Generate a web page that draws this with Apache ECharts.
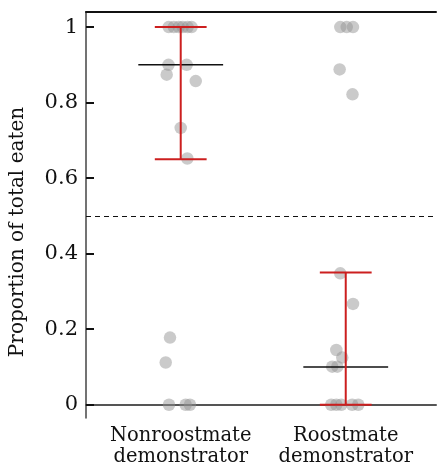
<!DOCTYPE html>
<html lang="en">
<head>
<meta charset="UTF-8">
<title>Proportion of total eaten</title>
<style>
    * { margin: 0; padding: 0; }
    #chart { width: 437px; height: 469px; background: #fff; }
</style>
<script src="https://cdn.jsdelivr.net/npm/echarts@6/dist/echarts.min.js"></script>
</head>
<body>
<div id="chart"></div>
<script>
// groups sit at x = 1 and x = 2, points carry their own jitter
var groups = ['Nonroostmate\ndemonstrator', 'Roostmate\ndemonstrator'];
var yTicks = [0, 0.2, 0.4, 0.6, 0.8, 1];

var nonroostPts = [
    [0.927, 1], [0.958, 1], [0.988, 1], [1.012, 1], [1.042, 1], [1.066, 1],
    [0.926, 0.9], [1.036, 0.9], [0.915, 0.874], [1.091, 0.857], [1.0, 0.733], [1.040, 0.652],
    [0.935, 0.178], [0.909, 0.112], [0.929, 0], [1.030, 0], [1.056, 0]
];
var roostPts = [
    [1.967, 1], [2.006, 1], [2.044, 1], [1.963, 0.888], [2.041, 0.822],
    [1.967, 0.348], [2.044, 0.267], [1.943, 0.145], [1.979, 0.125],
    [1.918, 0.101], [1.949, 0.101],
    [1.912, 0], [1.943, 0], [1.973, 0], [2.039, 0], [2.076, 0]
];

var medians = [0.9, 0.1];
var lowers = [0.65, 0];
var uppers = [1, 0.35];
var chance = 0.5;

var chart = echarts.init(document.getElementById('chart'));
var font = 'DejaVu Serif';

// [group, median, lower, upper]
var summary = groups.map(function (g, i) {
    return [i + 1, medians[i], lowers[i], uppers[i]];
});

function renderSummary(params, api) {
    var x = api.value(0);
    var mL = api.coord([x - 0.257, api.value(1)]);
    var mR = api.coord([x + 0.257, api.value(1)]);
    var lo = api.coord([x, api.value(2)]);
    var hi = api.coord([x, api.value(3)]);
    var loL = api.coord([x - 0.157, api.value(2)]);
    var loR = api.coord([x + 0.157, api.value(2)]);
    var hiL = api.coord([x - 0.157, api.value(3)]);
    var hiR = api.coord([x + 0.157, api.value(3)]);
    var red = { stroke: '#cc1f1f', lineWidth: 2 };
    return {
        type: 'group',
        children: [
            { type: 'line', shape: { x1: mL[0], y1: mL[1], x2: mR[0], y2: mR[1] }, style: { stroke: '#111', lineWidth: 1.5 } },
            { type: 'line', shape: { x1: lo[0], y1: lo[1], x2: hi[0], y2: hi[1] }, style: red },
            { type: 'line', shape: { x1: loL[0], y1: loL[1], x2: loR[0], y2: loR[1] }, style: red },
            { type: 'line', shape: { x1: hiL[0], y1: hiL[1], x2: hiR[0], y2: hiR[1] }, style: red }
        ]
    };
}

var option = {
    animation: false,
    grid: { left: 85, right: 1, top: 12, bottom: 51 },
    xAxis: [{
        type: 'value',
        min: 0.426,
        max: 2.547,
        splitLine: { show: false },
        axisLine: { lineStyle: { color: '#555', width: 2 } },
        axisTick: { show: false },
        axisLabel: {
            customValues: [1, 2],
            formatter: function (v) { return groups[Math.round(v) - 1]; },
            color: '#111',
            fontFamily: font,
            fontSize: 19.5,
            lineHeight: 21,
            margin: 7
        }
    }, {
        type: 'value',
        position: 'top',
        min: 0.426,
        max: 2.547,
        splitLine: { show: false },
        axisLine: { show: true, lineStyle: { color: '#111', width: 2 } },
        axisTick: { show: false },
        axisLabel: { show: false }
    }],
    yAxis: {
        type: 'value',
        min: -0.035,
        max: 1.04,
        name: 'Proportion of total eaten',
        nameLocation: 'middle',
        nameGap: 58,
        nameTextStyle: { color: '#111', fontFamily: font, fontSize: 20, padding: [0, 34, 0, 0] },
        splitLine: { show: false },
        axisLine: { show: true, lineStyle: { color: '#444', width: 1.5 } },
        axisTick: { show: true, inside: true, length: 8, customValues: yTicks, lineStyle: { color: '#111', width: 2 } },
        axisLabel: {
            customValues: yTicks,
            formatter: function (v) { return String(v); },
            color: '#111',
            fontFamily: font,
            fontSize: 21,
            margin: 8
        }
    },
    series: [{
        type: 'scatter',
        data: nonroostPts,
        symbolSize: 12.5,
        itemStyle: { color: 'rgba(145,145,145,0.6)' },
        z: 2
    }, {
        type: 'scatter',
        data: roostPts,
        symbolSize: 12.5,
        itemStyle: { color: 'rgba(145,145,145,0.6)' },
        z: 2,
        markLine: {
            silent: true,
            symbol: 'none',
            label: { show: false },
            lineStyle: { color: '#111', type: [5, 4], width: 1.2 },
            data: [{ yAxis: chance }]
        }
    }, {
        type: 'custom',
        data: summary,
        renderItem: renderSummary,
        z: 3
    }]
};
chart.setOption(option);
</script>
</body>
</html>
